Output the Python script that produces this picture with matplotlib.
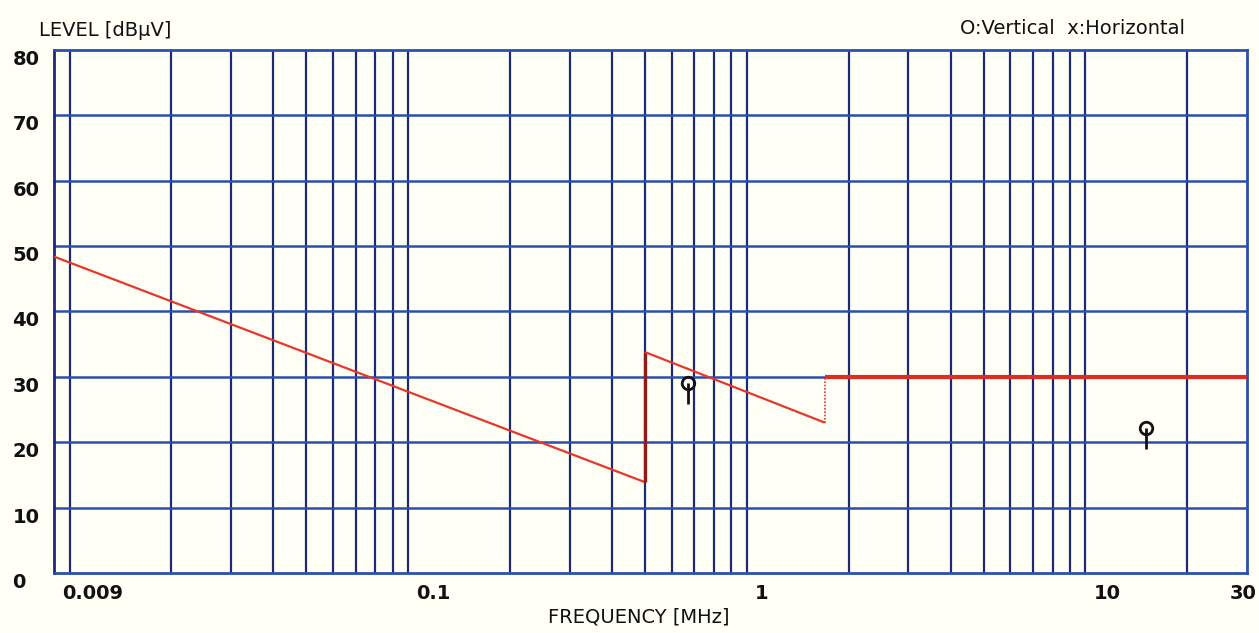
import matplotlib.pyplot as plt
import matplotlib.ticker as mticker

# limit line (MHz, dBuV)
limit_freq = [0.009, 0.5, 0.5, 1.7, 1.7, 30]
limit_level = [48.4, 13.9, 33.8, 23.0, 30.0, 30.0]

# measured points (vertical polarisation)
meas_freq = [0.67, 15.1]
meas_level = [29.1, 22.2]

grid_freq = [0.01, 0.02, 0.03, 0.04, 0.05, 0.06, 0.07, 0.08, 0.09,
             0.1, 0.2, 0.3, 0.4, 0.5, 0.6, 0.7, 0.8, 0.9,
             1, 2, 3, 4, 5, 6, 7, 8, 9, 10, 20]
grid_level = [10, 20, 30, 40, 50, 60, 70]
xtick_vals = [0.009, 0.1, 1, 10, 30]
xtick_labels = ["0.009", "0.1", "1", "10", "30"]
ytick_vals = [0, 10, 20, 30, 40, 50, 60, 70, 80]

bg = "#fffff6"
navy = "#1c2a72"
hblue = "#2b4fae"

fig = plt.figure(figsize=(12.59, 6.33), dpi=100, facecolor=bg)
ax = fig.add_axes([0.0429, 0.0948, 0.9476, 0.8262])
ax.set_facecolor(bg)
ax.set_xscale("log")
ax.set_xlim(0.009, 30)
ax.set_ylim(0, 80)

for f in grid_freq:
    ax.axvline(f, color=navy, lw=1.6, zorder=1)
for lv in grid_level:
    ax.axhline(lv, color=hblue, lw=1.8, zorder=1)
for s in ax.spines.values():
    s.set_color(hblue)
    s.set_linewidth(2)
ax.spines["left"].set_color(navy)

# limit line, segment by segment
styles = [dict(color="#e8362a", lw=1.6),
          dict(color="#8e1c1c", lw=2.4),
          dict(color="#e8362a", lw=1.6),
          dict(color="#e8362a", lw=1.2, ls=(0, (1, 1))),
          dict(color="#e02a22", lw=3.0)]
for i, st in enumerate(styles):
    ax.plot(limit_freq[i:i + 2], limit_level[i:i + 2], zorder=3,
            solid_capstyle="butt", **st)

ax.vlines(meas_freq, [v - 3.2 for v in meas_level], meas_level,
          color="#111111", lw=2, zorder=4)
ax.plot(meas_freq, meas_level, "o", ms=9, mfc="none", mec="#111111",
        mew=2, zorder=5)

ax.xaxis.set_major_locator(mticker.NullLocator())
ax.xaxis.set_minor_locator(mticker.NullLocator())
ax.set_yticks(ytick_vals)
ax.tick_params(axis="y", length=0, pad=30, labelsize=14)
ax.tick_params(axis="x", length=0)
for lab in ax.get_yticklabels():
    lab.set_fontweight("bold")
    lab.set_color("#111111")
    lab.set_horizontalalignment("left")
    lab.set_verticalalignment("top")

for v, t in zip(xtick_vals, xtick_labels):
    ha = "right" if v == xtick_vals[-1] else "left"
    dx = 7 if ha == "right" else 6
    ax.annotate(t, xy=(v, 0), xycoords=("data", "axes fraction"),
                xytext=(dx, -8), textcoords="offset points",
                ha=ha, va="top", fontsize=14, fontweight="bold",
                color="#111111")

fig.text(0.031, 0.952, "LEVEL [dB\u03bcV]", fontsize=14, va="center",
         color="#111111")
fig.text(0.941, 0.955, "O:Vertical  x:Horizontal", fontsize=14,
         va="center", ha="right", color="#111111")
fig.text(0.507, 0.025, "FREQUENCY [MHz]", fontsize=14, va="center",
         ha="center", color="#111111")

fig.savefig("out.png", dpi=100, facecolor=bg)
